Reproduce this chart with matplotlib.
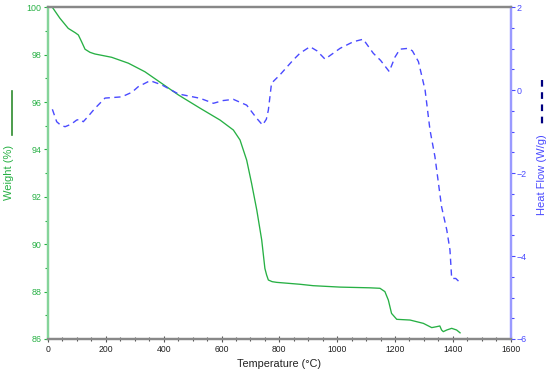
import matplotlib
matplotlib.use("Agg")
import matplotlib.pyplot as plt
from matplotlib.lines import Line2D
from matplotlib.ticker import MultipleLocator

plt.rcParams["font.family"] = ["Liberation Sans", "DejaVu Sans"]

# TGA weight curve (green, left axis)
temp_w = [15, 41, 70, 95, 105, 116, 128, 145, 162, 220, 278, 335, 393, 451, 526,
          595, 641, 664, 687, 704, 722, 739, 750, 756, 762, 775, 791, 871, 917,
          1010, 1113, 1148, 1165, 1177, 1188, 1206, 1252, 1298, 1327, 1344, 1355,
          1361, 1367, 1379, 1396, 1413, 1425]
weight = [100, 99.54, 99.11, 98.92, 98.83, 98.55, 98.23, 98.1, 98.03, 97.89, 97.64,
          97.28, 96.79, 96.3, 95.74, 95.24, 94.82, 94.40, 93.55, 92.57, 91.44,
          90.18, 88.98, 88.7, 88.49, 88.42, 88.39, 88.31, 88.25, 88.19, 88.16,
          88.14, 88.0, 87.64, 87.08, 86.83, 86.80, 86.66, 86.48, 86.52, 86.55,
          86.38, 86.31, 86.38, 86.45, 86.38, 86.26]

# DSC heat flow curve (blue dashed, right axis)
temp_h = [15, 30, 45, 59, 80, 99, 110, 122, 140, 162, 197, 255, 290, 312, 353, 393,
          451, 526, 572, 605, 641, 687, 722, 742, 755, 762, 773, 802, 848, 871, 906,
          930, 958, 1010, 1056, 1090, 1125, 1150, 1180, 1200, 1217, 1246, 1260,
          1281, 1304, 1321, 1338, 1361, 1379, 1390, 1396, 1410, 1425]
heat = [-0.46, -0.76, -0.85, -0.88, -0.82, -0.72, -0.70, -0.76, -0.62, -0.44, -0.19,
        -0.16, -0.05, 0.085, 0.23, 0.13, -0.09, -0.195, -0.315, -0.25, -0.22, -0.36,
        -0.68, -0.84, -0.70, -0.48, 0.17, 0.37, 0.73, 0.89, 1.05, 0.95, 0.75, 1.01,
        1.17, 1.23, 0.89, 0.72, 0.45, 0.80, 0.99, 1.01, 0.95, 0.69, 0.005, -0.96,
        -1.60, -2.81, -3.37, -3.85, -4.54, -4.54, -4.64]

green = "#27b044"
blue = "#4a4aff"

fig = plt.figure(figsize=(5.5, 3.74), dpi=100)
ax = fig.add_axes([0.0873, 0.0936, 0.8412, 0.8869])
ax2 = ax.twinx()

ax.plot(temp_w, weight, color=green, lw=0.95)
ax2.plot(temp_h, heat, color=blue, lw=1.0, dashes=(4.5, 3.2))

ax.set_xlim(0, 1600)
ax.set_ylim(86, 100)
ax2.set_ylim(-6, 2)

ax.xaxis.set_major_locator(MultipleLocator(200))
ax.xaxis.set_minor_locator(MultipleLocator(50))
ax.yaxis.set_major_locator(MultipleLocator(2))
ax.yaxis.set_minor_locator(MultipleLocator(1))
ax2.yaxis.set_major_locator(MultipleLocator(2))
ax2.yaxis.set_minor_locator(MultipleLocator(0.5))

# spines
for a in (ax, ax2):
    a.spines["top"].set_color("#888888")
    a.spines["bottom"].set_color("#888888")
    a.spines["left"].set_color("#85d49a")
    a.spines["right"].set_color("#9a9aff")
    for s in a.spines.values():
        s.set_linewidth(1.6)

ax.tick_params(axis="x", which="both", direction="inout", colors="#555555",
               labelcolor="#222222", labelsize=6.2, pad=2)
ax.tick_params(axis="x", which="major", length=4, width=0.8)
ax.tick_params(axis="x", which="minor", length=3, width=0.8)
ax.tick_params(axis="y", which="both", direction="out", colors=green,
               labelsize=6.4, pad=1.5)
ax.tick_params(axis="y", which="major", length=3, width=0.8)
ax.tick_params(axis="y", which="minor", length=2, width=0.8)
ax2.tick_params(axis="y", which="both", direction="out", colors=blue,
                labelsize=6.4, pad=1.5)
ax2.tick_params(axis="y", which="major", length=3, width=0.8)
ax2.tick_params(axis="y", which="minor", length=2, width=0.8)

ax.set_xlabel("Temperature (°C)", fontsize=7.8, color="#222222", labelpad=4)

# y labels with line samples
fig.text(9 / 550, 1 - 172 / 374, "Weight (%)", rotation=90, color=green,
         fontsize=8, ha="center", va="center")
fig.add_artist(Line2D([12 / 550, 12 / 550], [1 - 91 / 374, 1 - 135 / 374],
                      color="#2e8b2e", lw=1.2, transform=fig.transFigure))
fig.text(542 / 550, 1 - 175 / 374, "Heat Flow (W/g)", rotation=90, color=blue,
         fontsize=8, ha="center", va="center")
fig.add_artist(Line2D([542 / 550, 542 / 550], [1 - 80 / 374, 1 - 125 / 374],
                      color="#000080", lw=1.6, dashes=(3, 2.5),
                      transform=fig.transFigure))

fig.savefig("out.png", dpi=100)
